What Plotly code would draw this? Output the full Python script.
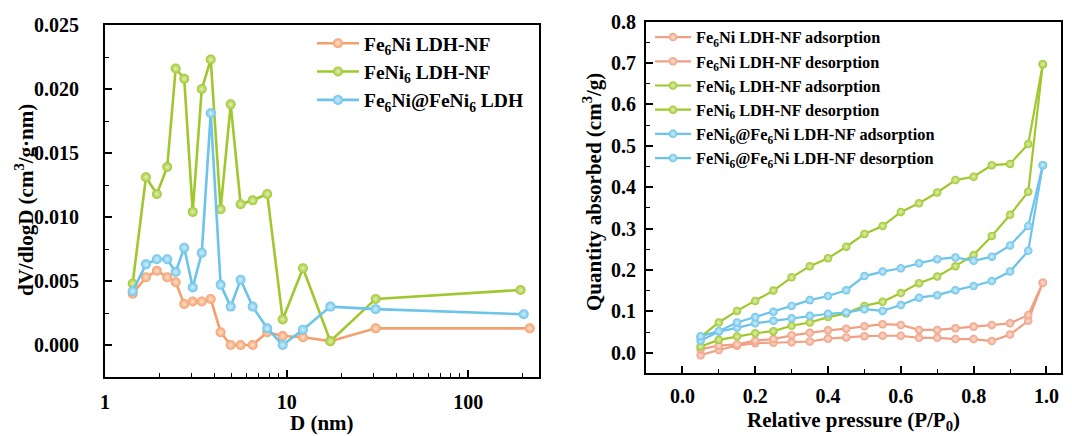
import numpy as np
import plotly.graph_objects as go

# ---------------- data: left panel (pore size distribution) ----------------
D_common = [1.42, 1.68, 1.93, 2.20, 2.45, 2.73, 3.04, 3.41, 3.82, 4.33,
            4.92, 5.58, 6.50, 7.82, 9.51, 12.3, 17.4, 30.9]
D_last_fe6ni = 218
D_last_feni6 = 194
D_last_hetero = 202

psd_fe6ni = [0.0040, 0.0053, 0.0058, 0.0053, 0.0049, 0.0032, 0.0034, 0.0034, 0.0036, 0.0010,
             0.0000, 0.0000, 0.0000, 0.0010, 0.0007, 0.0006, 0.0003, 0.0013, 0.0013]
psd_feni6 = [0.0048, 0.0131, 0.0118, 0.0139, 0.0216, 0.0208, 0.0104, 0.0200, 0.0223, 0.0106,
             0.0188, 0.0110, 0.0113, 0.0118, 0.0020, 0.0060, 0.0003, 0.0036, 0.0043]
psd_hetero = [0.0042, 0.0063, 0.0067, 0.0067, 0.0057, 0.0076, 0.0045, 0.0072, 0.0181, 0.0047,
              0.0030, 0.0051, 0.0030, 0.0013, 0.0000, 0.0012, 0.0030, 0.0028, 0.0024]

# ---------------- data: right panel (isotherms) ----------------
P_rel = [0.05, 0.10, 0.15, 0.20, 0.25, 0.30, 0.35, 0.40, 0.45, 0.50,
         0.55, 0.60, 0.65, 0.70, 0.75, 0.80, 0.85, 0.90, 0.95, 0.99]
fe6ni_ads = [-0.006, 0.0065, 0.017, 0.023, 0.024, 0.025, 0.027, 0.034, 0.037, 0.040,
             0.041, 0.041, 0.036, 0.036, 0.033, 0.033, 0.028, 0.044, 0.077, 0.169]
fe6ni_des = [0.0085, 0.017, 0.020, 0.029, 0.033, 0.042, 0.048, 0.054, 0.058, 0.064,
             0.069, 0.067, 0.055, 0.055, 0.059, 0.063, 0.067, 0.071, 0.091, 0.169]
feni6_ads = [0.015, 0.031, 0.039, 0.047, 0.052, 0.065, 0.073, 0.086, 0.095, 0.113,
             0.123, 0.144, 0.168, 0.184, 0.209, 0.236, 0.282, 0.333, 0.389, 0.697]
feni6_des = [0.038, 0.073, 0.101, 0.125, 0.150, 0.182, 0.209, 0.228, 0.256, 0.287,
             0.306, 0.340, 0.361, 0.387, 0.417, 0.425, 0.453, 0.456, 0.504, 0.697]
het_ads = [0.029, 0.051, 0.060, 0.071, 0.077, 0.083, 0.089, 0.094, 0.097, 0.105,
           0.101, 0.115, 0.133, 0.139, 0.151, 0.161, 0.173, 0.196, 0.246, 0.453]
het_des = [0.040, 0.052, 0.073, 0.086, 0.099, 0.113, 0.127, 0.137, 0.151, 0.185,
           0.196, 0.204, 0.216, 0.226, 0.230, 0.222, 0.232, 0.259, 0.306, 0.453]

left_names = ["Fe<sub>6</sub>Ni LDH-NF", "FeNi<sub>6</sub> LDH-NF",
              "Fe<sub>6</sub>Ni@FeNi<sub>6</sub> LDH"]
right_names = ["Fe<sub>6</sub>Ni LDH-NF adsorption", "Fe<sub>6</sub>Ni LDH-NF desorption",
               "FeNi<sub>6</sub> LDH-NF adsorption", "FeNi<sub>6</sub> LDH-NF desorption",
               "FeNi<sub>6</sub>@Fe<sub>6</sub>Ni LDH-NF adsorption",
               "FeNi<sub>6</sub>@Fe<sub>6</sub>Ni LDH-NF desorption"]

ORANGE = "#F4A06E"
ORANGE_R = "#F0A083"
GREEN = "#A0C82E"
BLUE = "#6CC4EA"
HL = {ORANGE: "#FCE0CC", ORANGE_R: "#FBE0D6", GREEN: "#E2F0B8", BLUE: "#D2EEFA"}

FONT = "Liberation Serif, Times New Roman, serif"

fig = go.Figure()

left_series = [
    (D_common + [D_last_fe6ni], psd_fe6ni, ORANGE, left_names[0]),
    (D_common + [D_last_feni6], psd_feni6, GREEN, left_names[1]),
    (D_common + [D_last_hetero], psd_hetero, BLUE, left_names[2]),
]
for i, (x, y, c, n) in enumerate(left_series):
    fig.add_trace(go.Scatter(
        x=x, y=y, mode="lines+markers", name=n, legend="legend",
        legendgroup="L%d" % i,
        line=dict(color=c, width=2.6),
        marker=dict(symbol="circle", size=10, color=c,
                    gradient=dict(type="radial", color=HL[c]),
                    line=dict(width=0)),
        xaxis="x", yaxis="y"))

right_series = [
    (fe6ni_ads, ORANGE_R, right_names[0]),
    (fe6ni_des, ORANGE_R, right_names[1]),
    (feni6_ads, GREEN, right_names[2]),
    (feni6_des, GREEN, right_names[3]),
    (het_ads, BLUE, right_names[4]),
    (het_des, BLUE, right_names[5]),
]
for i, (y, c, n) in enumerate(right_series):
    fig.add_trace(go.Scatter(
        x=P_rel, y=y, mode="lines+markers", name=n, legend="legend2",
        legendgroup="R%d" % i,
        line=dict(color=c, width=2.2),
        marker=dict(symbol="circle", size=8.5, color=c,
                    gradient=dict(type="radial", color=HL[c]),
                    line=dict(width=0)),
        xaxis="x2", yaxis="y2"))

# page body has an 8px default margin: figure is placed at (8, 8)
OFF = 8
W, H = 1064, 428


def px(v):
    return (v - OFF) / W


def py(v):
    return 1 - (v - OFF) / H


axis_common = dict(
    showline=True, linecolor="black", linewidth=2, mirror=True,
    ticks="inside", ticklen=7, tickwidth=1.6, tickcolor="black",
    showgrid=False, zeroline=False, automargin=False,
    tickfont=dict(family=FONT, size=20, color="black", weight="bold"),
)

fig.update_layout(
    template="none",
    width=W, height=H,
    margin=dict(l=0, r=0, t=0, b=0, autoexpand=False),
    paper_bgcolor="white", plot_bgcolor="white",
    font=dict(family=FONT, color="black"),
    xaxis=dict(
        **axis_common, type="log", domain=[px(105), px(539)],
        range=[0, np.log10(245)], anchor="y",
        tickvals=[1, 10, 100], ticktext=["1", "10", "100"],
        minor=dict(ticks="inside", ticklen=4, tickwidth=1.4, tickcolor="black",
                   tickvals=[2, 3, 4, 5, 6, 7, 8, 9, 20, 30, 40, 50, 60, 70, 80, 90, 200]),
        ticklabelstandoff=6,
    ),
    yaxis=dict(
        **axis_common, domain=[py(377), py(25)], range=[-0.0025, 0.025],
        anchor="x", dtick=0.005, tick0=0, tickformat=".3f",
        minor=dict(ticks="inside", ticklen=4, tickwidth=1.4, tickcolor="black", dtick=0.0025),
        ticklabelstandoff=20,
    ),
    xaxis2=dict(
        **axis_common, domain=[px(646), px(1061)], range=[-0.1, 1.04],
        anchor="y2", dtick=0.2, tick0=0, tickformat=".1f",
        minor=dict(ticks="inside", ticklen=4, tickwidth=1.4, tickcolor="black", dtick=0.1),
        ticklabelstandoff=4,
    ),
    yaxis2=dict(
        **axis_common, domain=[py(373.4), py(21.5)], range=[-0.05, 0.8],
        anchor="x2", dtick=0.1, tick0=0, tickformat=".1f",
        minor=dict(ticks="inside", ticklen=4, tickwidth=1.4, tickcolor="black", dtick=0.05),
        ticklabelstandoff=4,
    ),
    legend=dict(
        x=px(312), y=py(24), xanchor="left", yanchor="top",
        bgcolor="rgba(0,0,0,0)", borderwidth=0,
        font=dict(family=FONT, size=19.5, color="black", weight="bold"),
        traceorder="grouped", tracegroupgap=0, itemwidth=42,
    ),
    legend2=dict(
        x=px(650), y=py(20), xanchor="left", yanchor="top",
        bgcolor="rgba(0,0,0,0)", borderwidth=0,
        font=dict(family=FONT, size=16.3, color="black", weight="bold"),
        traceorder="grouped", tracegroupgap=0, itemwidth=36,
    ),
    showlegend=True,
)

title_font = dict(family=FONT, size=21, color="black", weight="bold")
fig.add_annotation(text="dV/dlogD (cm<sup>3</sup>/g·nm)", xref="paper", yref="paper",
                   x=px(24), y=py(200), textangle=-90, showarrow=False,
                   font=title_font, xanchor="center", yanchor="middle")
fig.add_annotation(text="D (nm)", xref="paper", yref="paper",
                   x=px(322), y=py(423), showarrow=False,
                   font=title_font, xanchor="center", yanchor="middle")
fig.add_annotation(text="Quantity absorbed (cm<sup>3</sup>/g)", xref="paper", yref="paper",
                   x=px(592), y=py(192), textangle=-90, showarrow=False,
                   font=title_font, xanchor="center", yanchor="middle")
fig.add_annotation(text="Relative pressure (P/P<sub>0</sub>)", xref="paper", yref="paper",
                   x=px(853), y=py(421), showarrow=False,
                   font=title_font, xanchor="center", yanchor="middle")

fig.write_html("out.html")
